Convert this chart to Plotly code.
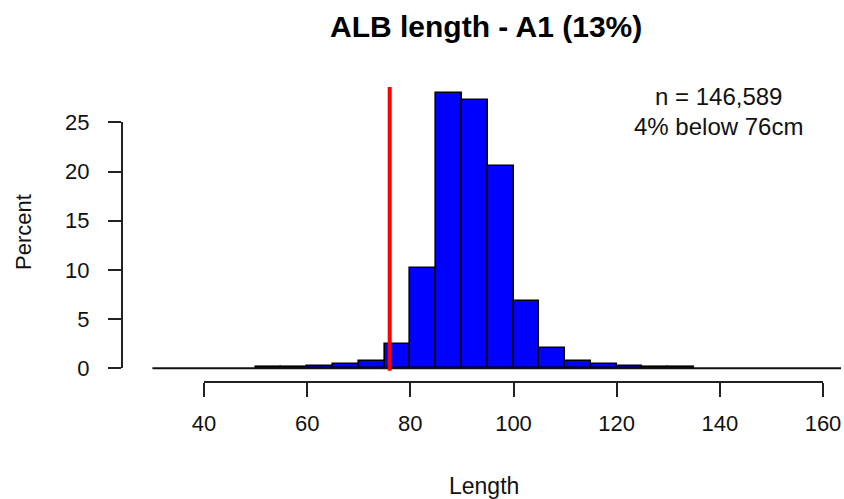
import plotly.graph_objects as go

# ---- data ----
bin_left = [50, 55, 60, 65, 70, 75, 80, 85, 90, 95, 100, 105, 110, 115, 120, 125, 130]
bin_width = 5
percent = [0.15, 0.15, 0.2, 0.45, 0.75, 2.45, 10.15, 28.0, 27.3, 20.6, 6.8, 2.05, 0.7, 0.4, 0.2, 0.15, 0.12]
x_ticks = [40, 60, 80, 100, 120, 140, 160]
y_ticks = [0, 5, 10, 15, 20, 25]
cutoff = 76
title = "ALB length - A1 (13%)"
note_lines = ["n = 146,589", "4% below 76cm"]

W, H = 844, 499
FONT = "Liberation Sans, Arial, sans-serif"

# pixel mapping used for layout
px_per_x = (823 - 204) / 120.0
x_lo = 40 - 204 / px_per_x
x_hi = 40 + (W - 204) / px_per_x
y0_px = 368.3
px_per_y = (368.3 - 122.3) / 25.0
y_lo = -(H - y0_px) / px_per_y
y_hi = y0_px / px_per_y

def fx(px):
    return px / W

def fy(py):
    return 1 - py / H

centers = [b + bin_width / 2 for b in bin_left]

fig = go.Figure()
fig.add_trace(go.Scatter(x=[30, 163.5], y=[0, 0], mode="lines",
                         line=dict(color="#111111", width=2), hoverinfo="skip"))
fig.add_trace(go.Bar(x=centers, y=percent, width=[bin_width] * len(centers),
                     marker=dict(color="#0000FF", line=dict(color="black", width=1.6))))
fig.add_trace(go.Scatter(x=[cutoff, cutoff], y=[-0.25, 28.6], mode="lines",
                         line=dict(color="#FF0000", width=4), hoverinfo="skip"))
# helper traces for the axis subplots
fig.add_trace(go.Scatter(x=[], y=[], xaxis="x2", yaxis="y2"))
fig.add_trace(go.Scatter(x=[], y=[], xaxis="x3", yaxis="y3"))

tickfont = dict(family=FONT, size=22, color="#111111")

fig.update_layout(
    width=W, height=H,
    margin=dict(l=0, r=0, t=0, b=0, pad=0, autoexpand=False),
    paper_bgcolor="white", plot_bgcolor="rgba(0,0,0,0)",
    showlegend=False, bargap=0,
    xaxis=dict(domain=[0, 1], range=[x_lo, x_hi], visible=False, fixedrange=True, automargin=False),
    yaxis=dict(domain=[0, 1], range=[y_lo, y_hi], visible=False, fixedrange=True, automargin=False),
    xaxis2=dict(domain=[fx(204), fx(823)], range=[40, 160], anchor="y2",
                showline=True, linecolor="#222222", linewidth=2,
                ticks="outside", ticklen=14, tickwidth=2, tickcolor="#222222",
                tickvals=x_ticks, tickfont=tickfont, showgrid=False, zeroline=False,
                ticklabelstandoff=8, automargin=False),
    yaxis2=dict(domain=[fy(381), fy(370)], visible=False, automargin=False),
    yaxis3=dict(domain=[fy(y0_px), fy(122.3)], range=[0, 25], anchor="x3",
                showline=True, linecolor="#222222", linewidth=2,
                ticks="outside", ticklen=13, tickwidth=2, tickcolor="#222222",
                tickvals=y_ticks, tickfont=tickfont, showgrid=False, zeroline=False,
                ticklabelstandoff=14, automargin=False),
    xaxis3=dict(domain=[fx(123), fx(140)], visible=False, automargin=False),
    annotations=[
        dict(text="<b>" + title + "</b>", x=fx(486), y=fy(26), xref="paper", yref="paper",
             showarrow=False, font=dict(family=FONT, size=30, color="black"),
             xanchor="center", yanchor="middle"),
        dict(text=note_lines[0], x=fx(718), y=fy(97), xref="paper", yref="paper",
             showarrow=False, font=dict(family=FONT, size=24, color="#111111"),
             xanchor="center", yanchor="middle"),
        dict(text=note_lines[1], x=fx(718), y=fy(127), xref="paper", yref="paper",
             showarrow=False, font=dict(family=FONT, size=24, color="#111111"),
             xanchor="center", yanchor="middle"),
        dict(text="Length", x=fx(484), y=fy(486), xref="paper", yref="paper",
             showarrow=False, font=dict(family=FONT, size=23, color="#111111"),
             xanchor="center", yanchor="middle"),
        dict(text="Percent", x=fx(23), y=fy(232), xref="paper", yref="paper",
             showarrow=False, font=dict(family=FONT, size=22, color="#111111"),
             textangle=-90, xanchor="center", yanchor="middle"),
    ],
)

fig.write_html("out.html")
